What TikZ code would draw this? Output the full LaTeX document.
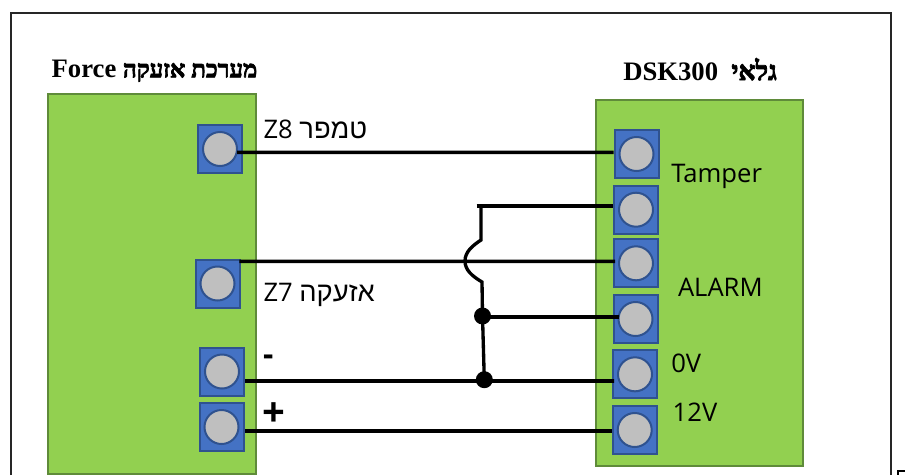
\documentclass[tikz,border=0pt]{standalone}
\usepackage{fontspec}
\TeXXeTstate=1
\setmainfont{Open Sans}
\newfontfamily\hebsans[Script=Hebrew]{Liberation Sans}
\newfontfamily\titlefont{Liberation Serif}
\newfontfamily\titleheb[Script=Hebrew,UprightFont=* Bold,FakeBold=3]{Liberation Serif}
\definecolor{boardfill}{HTML}{92D050}
\definecolor{boardline}{HTML}{5F8B3A}
\definecolor{termfill}{HTML}{4472C4}
\definecolor{termline}{HTML}{2F528F}
\definecolor{holefill}{HTML}{BFBFBF}
\tikzset{
  x=0.75pt,y=-0.75pt,
  frameline/.style={draw=black!85,line width=1.5pt},
  board/.style={draw=boardline,fill=boardfill,line width=1.5pt},
  term/.style={draw=termline,fill=termfill,line width=1.5pt,rectangle,minimum width=33pt,minimum height=36pt,inner sep=0pt,outer sep=0pt},
  hole/.style={draw=termline,fill=holefill,line width=1.5pt,circle,minimum size=25.5pt,inner sep=0pt,outer sep=0pt},
  wire/.style={draw=black,line width=2.7pt},
  thinwire/.style={draw=black,line width=2.5pt},
  junction/.style={circle,fill=black,minimum size=12.75pt,inner sep=0pt,outer sep=0pt},
  label/.style={anchor=base west,inner sep=0pt,outer sep=0pt,font=\fontsize{19.2pt}{23pt}\selectfont,text=black},
  heading/.style={anchor=base west,inner sep=0pt,outer sep=0pt,font=\titlefont\bfseries\fontsize{20pt}{24pt}\selectfont,text=black},
  signmark/.style={anchor=base west,inner sep=0pt,outer sep=0pt,font=\bfseries\fontsize{24pt}{28pt}\selectfont,text=black}
}
\newcommand{\hebL}[1]{{\hebsans\fontsize{20.5pt}{24pt}\selectfont\beginR #1\endR}}
\begin{document}
\begin{tikzpicture}
\useasboundingbox (0,0) rectangle (905,475);
\fill[white] (0,0) rectangle (905,475);
% frame (its lower edge lies outside the picture)
\draw[frameline] (10.7,475) -- (10.7,12.5) -- (891,12.5) -- (891,475);
\draw[black,line width=1.5pt] (905,471) -- (897.5,471) -- (897.5,475);
% boards
\path[board] (48,94) rectangle (255.5,474);
\path[board] (596,100) rectangle (803,465.5);
% headings
\node[heading] (titleL) at (51.7,77.3) {Force {\titleheb\mdseries\fontsize{18pt}{24pt}\selectfont\beginR מערכת אזעקה\endR}};
\node[heading] (titleR) at (623.3,80) {DSK300\hspace{0.5em}{\titleheb\mdseries\beginR גלאי\endR}};
% terminals
\foreach \n/\px/\py in {L1/220/149,L2/217.5/283.5,L3/222/371.5,L4/221.5/427,
                        R1/636.5/154,R2/636/209.7,R3/636/263.3,R4/635.5/319,R5/635/374.3,R6/634.7/430}{
  \node[term] (\n) at (\px,\py) {};
  \node[hole] (\n h) at (\px,\py) {};
}
% labels
\node[label] (z8) at (263.5,138) {Z8 \hebL{טמפר}};
\node[label] (z7) at (263.5,301) {Z7 \hebL{אזעקה}};
\node[signmark] (minus) at (263,365) {-};
\node[signmark,font=\bfseries\fontsize{30pt}{34pt}\selectfont] (plus) at (262.5,426) {+};
\node[label] (tamper) at (671.3,182.7) {Tamper};
\node[label] (alarm) at (678,296.7) {ALARM};
\node[label] (zero) at (671.3,372.7) {0V};
\node[label] (twelve) at (672.7,421.7) {12V};
% junctions
\node[junction] (J1) at (482.5,316) {};
\node[junction] (J2) at (484.3,379.7) {};
\coordinate (jogtop) at (476.7,206);
% wires
\draw[wire] ([shift={(17,3.3)}]L1.center) -- ([shift={(-23,-1.7)}]R1.center);
\draw[wire] (jogtop) -- ([shift={(-23,-3.7)}]R2.center);
\draw[wire] ([shift={(21.8,-22.2)}]L2.center) -- ([shift={(-21,-2)}]R3.center);
\draw[wire] ([shift={(0,1)}]J1.center) -- ([shift={(-16.5,-2)}]R4.center);
\draw[wire] ([shift={(23,9.5)}]L3.center) -- ([shift={(-21,6.7)}]R5.center);
\draw[wire] ([shift={(23.5,3.7)}]L4.center) -- ([shift={(-22.7,0.7)}]R6.center);
\draw[thinwire] (481,206) -- (481,240) .. controls (472,246) and (465,252) .. (465,261) .. controls (465,270) and (472,276) .. (482,282) -- (J1.center) -- (J2.center);
\end{tikzpicture}
\end{document}
